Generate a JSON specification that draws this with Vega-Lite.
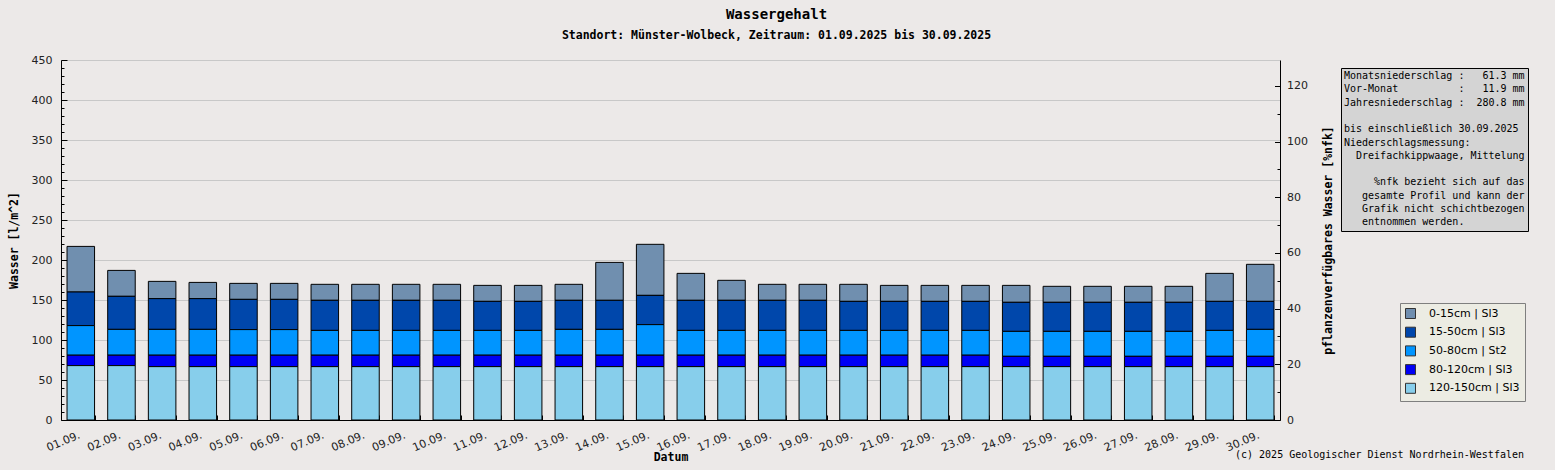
{
  "$schema": "https://vega.github.io/schema/vega-lite/v6.json",
  "width": 1219,
  "height": 360,
  "autosize": {"type": "none"},
  "padding": {"left": 61, "top": 60, "right": 275, "bottom": 50},
  "background": "#ECE9E8",
  "title": {
    "text": "Wassergehalt",
    "subtitle": "Standort: Münster-Wolbeck, Zeitraum: 01.09.2025 bis 30.09.2025",
    "anchor": "middle",
    "dx": 106,
    "offset": 13,
    "font": "DejaVu Sans Mono",
    "fontSize": 14,
    "fontWeight": "bold",
    "color": "#000000",
    "subtitleFont": "DejaVu Sans Mono",
    "subtitleFontSize": 11.5,
    "subtitleFontWeight": "bold",
    "subtitleColor": "#000000",
    "subtitlePadding": 8
  },
  "datasets": {
    "tage": [
      {"datum": "01.09.", "0-15cm | Sl3": 57, "15-50cm | Sl3": 42, "50-80cm | St2": 37, "80-120cm | Sl3": 13, "120-150cm | Sl3": 68},
      {"datum": "02.09.", "0-15cm | Sl3": 32.4, "15-50cm | Sl3": 41.3, "50-80cm | St2": 32.3, "80-120cm | Sl3": 13, "120-150cm | Sl3": 68},
      {"datum": "03.09.", "0-15cm | Sl3": 21.6, "15-50cm | Sl3": 38.4, "50-80cm | St2": 32.3, "80-120cm | Sl3": 14.3, "120-150cm | Sl3": 66.7},
      {"datum": "04.09.", "0-15cm | Sl3": 20.3, "15-50cm | Sl3": 38.4, "50-80cm | St2": 32.3, "80-120cm | Sl3": 14.3, "120-150cm | Sl3": 66.7},
      {"datum": "05.09.", "0-15cm | Sl3": 20, "15-50cm | Sl3": 37.8, "50-80cm | St2": 32, "80-120cm | Sl3": 14.3, "120-150cm | Sl3": 66.7},
      {"datum": "06.09.", "0-15cm | Sl3": 20, "15-50cm | Sl3": 37.8, "50-80cm | St2": 32, "80-120cm | Sl3": 14.3, "120-150cm | Sl3": 66.7},
      {"datum": "07.09.", "0-15cm | Sl3": 20, "15-50cm | Sl3": 37.6, "50-80cm | St2": 31, "80-120cm | Sl3": 14.3, "120-150cm | Sl3": 66.7},
      {"datum": "08.09.", "0-15cm | Sl3": 20, "15-50cm | Sl3": 37.6, "50-80cm | St2": 31, "80-120cm | Sl3": 14.3, "120-150cm | Sl3": 66.7},
      {"datum": "09.09.", "0-15cm | Sl3": 20, "15-50cm | Sl3": 37.6, "50-80cm | St2": 31, "80-120cm | Sl3": 14.3, "120-150cm | Sl3": 66.7},
      {"datum": "10.09.", "0-15cm | Sl3": 20, "15-50cm | Sl3": 37.6, "50-80cm | St2": 31, "80-120cm | Sl3": 14.3, "120-150cm | Sl3": 66.7},
      {"datum": "11.09.", "0-15cm | Sl3": 20, "15-50cm | Sl3": 36.3, "50-80cm | St2": 31, "80-120cm | Sl3": 14.3, "120-150cm | Sl3": 66.7},
      {"datum": "12.09.", "0-15cm | Sl3": 20, "15-50cm | Sl3": 36.3, "50-80cm | St2": 31, "80-120cm | Sl3": 14.3, "120-150cm | Sl3": 66.7},
      {"datum": "13.09.", "0-15cm | Sl3": 20, "15-50cm | Sl3": 36.3, "50-80cm | St2": 32.3, "80-120cm | Sl3": 14.3, "120-150cm | Sl3": 66.7},
      {"datum": "14.09.", "0-15cm | Sl3": 47.4, "15-50cm | Sl3": 36.3, "50-80cm | St2": 32.3, "80-120cm | Sl3": 14.3, "120-150cm | Sl3": 66.7},
      {"datum": "15.09.", "0-15cm | Sl3": 63.8, "15-50cm | Sl3": 36.6, "50-80cm | St2": 38.2, "80-120cm | Sl3": 14.3, "120-150cm | Sl3": 66.7},
      {"datum": "16.09.", "0-15cm | Sl3": 33.7, "15-50cm | Sl3": 37.6, "50-80cm | St2": 31, "80-120cm | Sl3": 14.3, "120-150cm | Sl3": 66.7},
      {"datum": "17.09.", "0-15cm | Sl3": 25, "15-50cm | Sl3": 37.6, "50-80cm | St2": 31, "80-120cm | Sl3": 14.3, "120-150cm | Sl3": 66.7},
      {"datum": "18.09.", "0-15cm | Sl3": 20, "15-50cm | Sl3": 37.6, "50-80cm | St2": 31, "80-120cm | Sl3": 14.3, "120-150cm | Sl3": 66.7},
      {"datum": "19.09.", "0-15cm | Sl3": 20, "15-50cm | Sl3": 37.6, "50-80cm | St2": 31, "80-120cm | Sl3": 14.3, "120-150cm | Sl3": 66.7},
      {"datum": "20.09.", "0-15cm | Sl3": 21.3, "15-50cm | Sl3": 36.3, "50-80cm | St2": 31, "80-120cm | Sl3": 14.3, "120-150cm | Sl3": 66.7},
      {"datum": "21.09.", "0-15cm | Sl3": 20, "15-50cm | Sl3": 36.3, "50-80cm | St2": 31, "80-120cm | Sl3": 14.3, "120-150cm | Sl3": 66.7},
      {"datum": "22.09.", "0-15cm | Sl3": 20, "15-50cm | Sl3": 36.3, "50-80cm | St2": 31, "80-120cm | Sl3": 14.3, "120-150cm | Sl3": 66.7},
      {"datum": "23.09.", "0-15cm | Sl3": 20, "15-50cm | Sl3": 36.3, "50-80cm | St2": 31, "80-120cm | Sl3": 14.3, "120-150cm | Sl3": 66.7},
      {"datum": "24.09.", "0-15cm | Sl3": 21.2, "15-50cm | Sl3": 36.3, "50-80cm | St2": 31.2, "80-120cm | Sl3": 12.9, "120-150cm | Sl3": 66.7},
      {"datum": "25.09.", "0-15cm | Sl3": 20, "15-50cm | Sl3": 36.3, "50-80cm | St2": 31.2, "80-120cm | Sl3": 12.9, "120-150cm | Sl3": 66.7},
      {"datum": "26.09.", "0-15cm | Sl3": 20, "15-50cm | Sl3": 36.3, "50-80cm | St2": 31.2, "80-120cm | Sl3": 12.9, "120-150cm | Sl3": 66.7},
      {"datum": "27.09.", "0-15cm | Sl3": 20, "15-50cm | Sl3": 36.3, "50-80cm | St2": 31.2, "80-120cm | Sl3": 12.9, "120-150cm | Sl3": 66.7},
      {"datum": "28.09.", "0-15cm | Sl3": 20, "15-50cm | Sl3": 36.3, "50-80cm | St2": 31.2, "80-120cm | Sl3": 12.9, "120-150cm | Sl3": 66.7},
      {"datum": "29.09.", "0-15cm | Sl3": 35, "15-50cm | Sl3": 36.3, "50-80cm | St2": 32.4, "80-120cm | Sl3": 12.9, "120-150cm | Sl3": 66.7},
      {"datum": "30.09.", "0-15cm | Sl3": 46.3, "15-50cm | Sl3": 35, "50-80cm | St2": 33.7, "80-120cm | Sl3": 12.9, "120-150cm | Sl3": 66.7}
    ],
    "schichten": [
      {"schicht": "0-15cm | Sl3", "tiefe_von": 0},
      {"schicht": "15-50cm | Sl3", "tiefe_von": 15},
      {"schicht": "50-80cm | St2", "tiefe_von": 50},
      {"schicht": "80-120cm | Sl3", "tiefe_von": 80},
      {"schicht": "120-150cm | Sl3", "tiefe_von": 120}
    ],
    "infotext": [
      {"zeile": "Monatsniederschlag :\u00a0\u00a0\u00a061.3 mm"},
      {"zeile": "Vor-Monat\u00a0\u00a0\u00a0\u00a0\u00a0\u00a0\u00a0\u00a0\u00a0\u00a0:\u00a0\u00a0\u00a011.9 mm"},
      {"zeile": "Jahresniederschlag :\u00a0\u00a0280.8 mm"},
      {"zeile": "\u00a0"},
      {"zeile": "bis einschließlich 30.09.2025"},
      {"zeile": "Niederschlagsmessung:"},
      {"zeile": "\u200b\u00a0\u00a0Dreifachkippwaage, Mittelung"},
      {"zeile": "\u00a0\u00a0"},
      {"zeile": "\u200b\u00a0\u00a0\u00a0\u00a0\u00a0%nfk bezieht sich auf das"},
      {"zeile": "\u200b\u00a0\u00a0\u00a0gesamte Profil und kann der"},
      {"zeile": "\u200b\u00a0\u00a0\u00a0Grafik nicht schichtbezogen"},
      {"zeile": "\u200b\u00a0\u00a0\u00a0entnommen werden."}
    ]
  },
  "layer": [
    {
      "data": {"name": "tage"},
      "transform": [
        {"fold": ["0-15cm | Sl3", "15-50cm | Sl3", "50-80cm | St2", "80-120cm | Sl3", "120-150cm | Sl3"], "as": ["schicht", "wasser"]},
        {"lookup": "schicht", "from": {"data": {"name": "schichten"}, "key": "schicht", "fields": ["tiefe_von"]}}
      ],
      "mark": {"type": "bar", "stroke": "#000000", "strokeWidth": 1},
      "encoding": {
        "x": {
          "field": "datum",
          "type": "ordinal",
          "sort": null,
          "scale": {"paddingInner": 0.323, "paddingOuter": 0.148},
          "axis": {
            "title": "Datum",
            "labelAngle": -23,
            "labelOffset": -4,
            "labelPadding": 14,
            "tickBand": "extent",
            "tickSize": -5,
            "titleY": 37,
            "titleBaseline": "middle"
          }
        },
        "y": {
          "field": "wasser",
          "type": "quantitative",
          "stack": "zero",
          "scale": {"domain": [0, 450], "nice": false},
          "axis": {
            "orient": "left",
            "title": "Wasser [l/m^2]",
            "values": [0, 10, 20, 30, 40, 50, 60, 70, 80, 90, 100, 110, 120, 130, 140, 150, 160, 170, 180, 190, 200, 210, 220, 230, 240, 250, 260, 270, 280, 290, 300, 310, 320, 330, 340, 350, 360, 370, 380, 390, 400, 410, 420, 430, 440, 450],
            "labelExpr": "datum.value % 50 === 0 ? datum.label : ''",
            "labelOverlap": false,
            "labelPadding": 15,
            "grid": true,
            "gridOpacity": {"condition": {"test": "datum.value % 50 === 0", "value": 1}, "value": 0},
            "tickSize": {"condition": {"test": "datum.value % 50 === 0", "value": -6}, "value": -3},
            "titleX": -47,
            "titleY": 180,
            "titleAngle": 270,
            "titleAlign": "center",
            "titleBaseline": "middle"
          }
        },
        "color": {
          "field": "schicht",
          "type": "nominal",
          "scale": {
            "domain": ["0-15cm | Sl3", "15-50cm | Sl3", "50-80cm | St2", "80-120cm | Sl3", "120-150cm | Sl3"],
            "range": ["#708FAF", "#0047AB", "#0095FF", "#0000F5", "#87CEEB"]
          },
          "legend": {
            "orient": "none",
            "legendX": 1339,
            "legendY": 243,
            "title": null,
            "fillColor": "#ECECE3",
            "strokeColor": "#7F7F7F",
            "padding": 5,
            "symbolType": "square",
            "symbolSize": 100,
            "symbolStrokeColor": "#333333",
            "symbolStrokeWidth": 1,
            "labelFont": "DejaVu Sans",
            "labelFontSize": 11,
            "labelColor": "#000000",
            "labelOffset": 13,
            "rowPadding": 3.7
          }
        },
        "order": {"field": "tiefe_von", "sort": "descending"}
      }
    },
    {
      "data": {"values": [{}]},
      "mark": {"type": "rule", "opacity": 0},
      "encoding": {
        "y": {
          "datum": 0,
          "type": "quantitative",
          "scale": {"domain": [0, 129.3], "nice": false},
          "axis": {
            "orient": "right",
            "title": "pflanzenverfügbares Wasser [%nfk]",
            "values": [0, 10, 20, 30, 40, 50, 60, 70, 80, 90, 100, 110, 120],
            "labelExpr": "datum.value % 20 === 0 ? datum.label : ''",
            "labelOverlap": false,
            "labelPadding": 12,
            "grid": false,
            "tickSize": {"condition": {"test": "datum.value % 20 === 0", "value": -5.5}, "value": -3},
            "titleX": 48,
            "titleY": 180,
            "titleAngle": 270,
            "titleAlign": "center",
            "titleBaseline": "middle"
          }
        }
      }
    },
    {
      "data": {"name": "infotext"},
      "mark": {"type": "point", "opacity": 0},
      "encoding": {
        "shape": {
          "field": "zeile",
          "type": "nominal",
          "sort": null,
          "legend": {
            "orient": "none",
            "legendX": 1280,
            "legendY": 8,
            "title": null,
            "fillColor": "#D4D4D4",
            "strokeColor": "#000000",
            "padding": 3,
            "symbolSize": 0,
            "symbolOpacity": 0,
            "symbolStrokeWidth": 0,
            "labelOffset": -10,
            "labelFont": "DejaVu Sans Mono",
            "labelFontSize": 10,
            "labelColor": "#000000",
            "labelLimit": 400,
            "rowPadding": 3.3
          }
        }
      }
    },
    {
      "data": {"values": [{"hinweis": "(c) 2025 Geologischer Dienst Nordrhein-Westfalen"}]},
      "mark": {"type": "point", "opacity": 0},
      "encoding": {
        "strokeDash": {
          "field": "hinweis",
          "type": "nominal",
          "legend": {
            "orient": "none",
            "legendX": 1175,
            "legendY": 390,
            "title": null,
            "padding": 0,
            "symbolSize": 0,
            "symbolOpacity": 0,
            "symbolStrokeWidth": 0,
            "labelOffset": -11,
            "labelFont": "DejaVu Sans Mono",
            "labelFontSize": 10,
            "labelColor": "#000000",
            "labelLimit": 400
          }
        }
      }
    }
  ],
  "resolve": {"scale": {"y": "independent"}},
  "config": {
    "view": {"stroke": null, "fill": "#FFFFFF"},
    "axis": {
      "domainColor": "#000000",
      "domainWidth": 1,
      "tickColor": "#000000",
      "labelFont": "DejaVu Sans",
      "labelFontSize": 11,
      "labelColor": "#222222",
      "titleFont": "DejaVu Sans Mono",
      "titleFontSize": 11.5,
      "titleFontWeight": "bold",
      "titleColor": "#000000",
      "gridColor": "#C8C8C8"
    }
  }
}
